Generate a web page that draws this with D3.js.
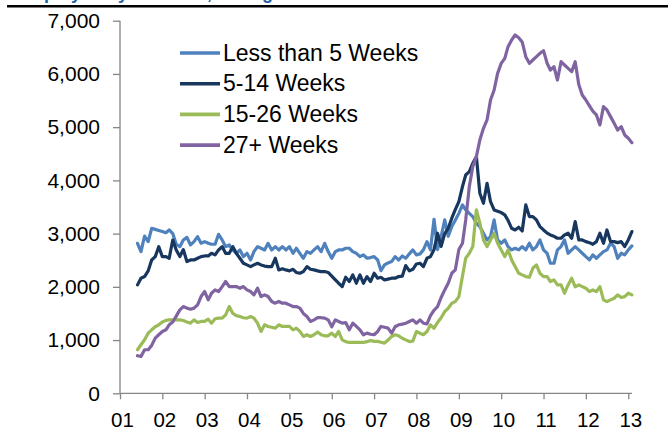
<!DOCTYPE html>
<html>
<head>
<meta charset="utf-8">
<script src="https://cdn.jsdelivr.net/npm/d3@7"></script>
<style>
  html, body { margin: 0; padding: 0; background: #fff; }
  svg { display: block; font-family: "Liberation Sans", Arial, sans-serif; }
</style>
</head>
<body>
<svg id="chart" width="668" height="430"></svg>
<script>
// ---- Data (monthly, Jun 2001 .. Feb 2013, thousands) ----
const startYear = 2001, startMonth = 5; // June 2001 (0-based month)
const seriesNames = ["Less than 5 Weeks", "5-14 Weeks", "15-26 Weeks", "27+ Weeks"];
const seriesColors = ["#4F81BD", "#17375E", "#9BBB59", "#8064A2"];
const yTicks = [0, 1000, 2000, 3000, 4000, 5000, 6000, 7000];
const xTickYears = [2001,2002,2003,2004,2005,2006,2007,2008,2009,2010,2011,2012,2013];

const lessThan5 = [
 2818,2662,2955,2850,3100,3080,3060,3040,3018,3068,3000,2800,2755,2880,2930,2787,2850,2943,2820,2850,
 2820,2800,2800,2987,2880,2755,2787,2693,2630,2693,2568,2630,2505,2662,2755,2725,2693,2818,2693,2755,
 2693,2755,2693,2755,2630,2725,2630,2537,2662,2630,2693,2755,2662,2818,2662,2537,2662,2693,2693,2725,
 2725,2662,2630,2568,2600,2537,2550,2568,2505,2305,2412,2450,2475,2568,2505,
 2580,2537,2620,2694,2600,2620,2694,2850,2694,3270,2700,2944,3257,2950,3132,3250,3380,3539,3445,3380,
 3320,3195,3132,3007,2881,2944,3257,2881,2819,2881,2756,2694,2725,2694,2756,2694,2819,2694,2756,2881,
 2694,2631,2443,2443,2694,2756,2881,2631,2694,2756,2694,2631,2568,2506,2600,2537,2600,2662,2694,2819,
 2756,2537,2631,2600,2694,2769
];
const weeks5to14 = [
 2037,2162,2193,2300,2505,2568,2755,2568,2568,2537,2880,2693,2568,2700,2475,2505,2505,2537,2568,2580,
 2580,2630,2600,2693,2755,2630,2630,2755,2630,2537,2443,2412,2380,2412,2443,2412,2390,2380,2380,2537,
 2318,2340,2318,2300,2330,2270,2255,2287,2380,2330,2318,2300,2287,2287,2270,2200,2130,2068,2005,2180,
 2100,2224,2068,2224,2068,2193,2100,2255,2162,2180,2130,2145,2162,2162,2193,
 2200,2400,2300,2330,2430,2443,2381,2537,2568,2700,3007,2760,3000,3100,3290,3450,3600,3883,4102,4165,
 4321,4446,3758,3570,3946,3600,3445,3420,3395,3351,3250,3100,3069,3120,3050,3539,3320,3320,3257,3132,
 3069,3010,2975,2950,2913,2913,2975,3007,2913,3226,2881,2881,2850,2830,2800,2850,3007,2819,3069,2850,
 2850,2831,2850,2756,2881,3038
];
const weeks15to26 = [
 818,912,1005,1130,1193,1250,1287,1340,1370,1380,1380,1380,1380,1368,1340,1318,1380,1330,1350,1350,
 1393,1318,1400,1412,1412,1475,1630,1500,1460,1443,1420,1412,1443,1412,1318,1162,1287,1256,1240,1225,
 1287,1256,1260,1256,1193,1225,1162,1068,1100,1068,1100,1150,1100,1080,1080,1130,1068,1162,1005,970,
 955,955,955,955,955,970,993,975,975,960,943,1000,1068,1100,1080,
 1035,1003,972,980,1160,1129,1100,1160,1285,1223,1330,1420,1535,1598,1692,1723,1817,2200,2537,2631,
 2756,3445,3195,2881,2756,2881,3007,2819,2694,2568,2694,2506,2381,2255,2224,2193,2180,2350,2412,2255,
 2193,2193,2099,2130,2036,2036,1880,2036,2161,2000,2036,2005,1974,1911,1942,1911,2005,1755,1723,1755,
 1786,1849,1800,1817,1880,1849
];
const weeks27plus = [
 706,693,818,818,900,1037,1100,1162,1193,1287,1340,1450,1568,1630,1600,1580,1600,1662,1818,1912,
 1755,1880,1943,1912,2005,2100,2005,2005,2005,1975,2005,1943,1912,1850,1975,1818,1850,1818,1725,1693,
 1725,1693,1693,1662,1630,1630,1600,1500,1443,1350,1380,1420,1420,1412,1380,1250,1380,1350,1318,1330,
 1193,1318,1256,1193,1100,1130,1110,1100,1162,1256,1240,1225,1130,1250,1287,
 1300,1317,1348,1379,1317,1379,1317,1304,1460,1560,1630,1800,1942,2068,2255,2318,2700,2819,3257,3883,
 4259,4446,4759,4979,5135,5511,5698,6011,6199,6293,6512,6637,6731,6680,6600,6324,6199,6262,6324,6387,
 6437,6200,6074,6137,5886,6230,6168,6105,6043,6230,5800,5604,5511,5400,5300,5229,5041,5385,5323,5198,
 5072,4947,5010,4853,4791,4709
];
const seriesValues = [lessThan5, weeks5to14, weeks15to26, weeks27plus];

// ---- Chart ----
const svg = d3.select("#chart");
const x0 = 120, x1 = 628.3, yTop = 20.7, yBot = 393.3;

const x = d3.scaleTime()
  .domain([new Date(2001, 0, 1), new Date(2013, 0, 1)])
  .range([x0, x1]);
const y = d3.scaleLinear().domain([0, 7000]).range([yBot, yTop]);

const dateOf = i => new Date(startYear, startMonth + i, 1);

// cut-off title (only its descenders show in the reference) and top rule
svg.append("text")
  .attr("x", -6).attr("y", -1)
  .attr("fill", "#1F5FA8").attr("font-weight", "bold").attr("font-size", 18)
  .text("Unemployed by Duration, Change");
svg.append("line")
  .attr("x1", 7).attr("x2", 668).attr("y1", 6.2).attr("y2", 6.2)
  .attr("stroke", "#000").attr("stroke-width", 2.4);

const axisColor = "#868686";

// Y axis
const yAxis = svg.append("g")
  .attr("transform", `translate(${x0},0)`)
  .call(d3.axisLeft(y).tickValues(yTicks).tickSize(7).tickPadding(13).tickFormat(d3.format(",")));
yAxis.select(".domain").remove();
yAxis.append("line").attr("x1", 0).attr("x2", 0).attr("y1", yTop).attr("y2", yBot)
  .attr("stroke", axisColor).attr("stroke-width", 1.3);
yAxis.selectAll(".tick line").attr("stroke", axisColor).attr("stroke-width", 1.3);
yAxis.selectAll(".tick text").attr("fill", "#000").attr("font-size", 21)
  .attr("font-family", "Liberation Sans, Arial, sans-serif");

// X axis
const xAxis = svg.append("g")
  .attr("transform", `translate(0,${yBot})`)
  .call(d3.axisBottom(x).tickValues(xTickYears.map(yv => new Date(yv, 0, 1)))
    .tickSize(6).tickFormat(d3.timeFormat("%y")));
xAxis.select(".domain").remove();
xAxis.append("line").attr("x1", x0).attr("x2", 632).attr("y1", 0).attr("y2", 0)
  .attr("stroke", axisColor).attr("stroke-width", 1.3);
xAxis.selectAll(".tick line").attr("stroke", axisColor).attr("stroke-width", 1.3);
xAxis.selectAll(".tick text").attr("fill", "#000").attr("font-size", 20.5)
  .attr("font-family", "Liberation Sans, Arial, sans-serif")
  .attr("y", 33.5).attr("dy", 0).attr("dx", 2);

// Lines
const line = d3.line()
  .x((d, i) => x(dateOf(i)))
  .y(d => y(d));

seriesValues.forEach((vals, si) => {
  svg.append("path")
    .datum(vals)
    .attr("fill", "none")
    .attr("stroke", seriesColors[si])
    .attr("stroke-width", 3.2)
    .attr("stroke-linejoin", "round")
    .attr("stroke-linecap", "round")
    .attr("d", line);
});

// Legend
const legend = svg.append("g");
const legY0 = 53, legDy = 30.7;
seriesNames.forEach((name, i) => {
  const ly = legY0 + i * legDy;
  legend.append("line")
    .attr("x1", 180).attr("x2", 220).attr("y1", ly).attr("y2", ly)
    .attr("stroke", seriesColors[i]).attr("stroke-width", 3.6);
  legend.append("text")
    .attr("x", 223).attr("y", ly + 7.5)
    .attr("font-size", 23).attr("fill", "#000")
    .text(name);
});
</script>
</body>
</html>
